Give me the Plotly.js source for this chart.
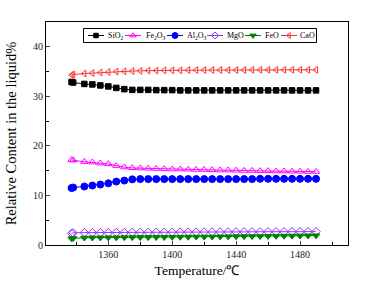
<!DOCTYPE html>
<html><head><meta charset="utf-8">
<script src="https://cdn.plot.ly/plotly-3.0.1.min.js"></script>
<style>html,body{margin:0;padding:0;background:#fff}#chart{width:368px;height:283px}</style>
</head><body><div id="chart"></div>
<script>
var temperature = [1337,1338,1345,1350,1355,1360,1365,1370,1375,1380,1385,1390,1395,1400,1405,1410,1415,1420,1425,1430,1435,1440,1445,1450,1455,1460,1465,1470,1475,1480,1485,1490];
var sio2  = [32.9,32.8,32.5,32.4,32.2,32.0,31.7,31.45,31.3,31.3,31.3,31.25,31.25,31.25,31.2,31.2,31.2,31.2,31.2,31.2,31.2,31.2,31.2,31.2,31.2,31.2,31.2,31.2,31.2,31.2,31.2,31.2];
var fe2o3 = [17.2,17.1,16.8,16.7,16.5,16.35,16.0,15.7,15.55,15.5,15.45,15.4,15.35,15.3,15.3,15.25,15.2,15.2,15.15,15.1,15.1,15.05,15.0,15.0,14.95,14.95,14.9,14.9,14.85,14.85,14.8,14.8];
var al2o3 = [11.5,11.6,11.8,12.0,12.2,12.45,12.8,13.0,13.25,13.3,13.3,13.3,13.3,13.3,13.3,13.3,13.3,13.3,13.3,13.3,13.3,13.3,13.3,13.3,13.35,13.35,13.35,13.35,13.35,13.35,13.35,13.35];
var mgo   = [2.35,2.45,2.5,2.5,2.5,2.5,2.52,2.52,2.55,2.55,2.55,2.57,2.57,2.58,2.6,2.6,2.6,2.62,2.62,2.63,2.64,2.65,2.65,2.66,2.67,2.68,2.68,2.69,2.7,2.7,2.7,2.7];
var feo   = [1.3,1.35,1.45,1.47,1.48,1.5,1.5,1.52,1.53,1.55,1.56,1.57,1.58,1.6,1.61,1.62,1.64,1.65,1.66,1.68,1.7,1.72,1.73,1.75,1.76,1.78,1.8,1.82,1.84,1.86,1.88,1.9];
var cao   = [34.3,34.4,34.6,34.7,34.8,34.9,35.0,35.05,35.1,35.15,35.2,35.2,35.25,35.25,35.25,35.3,35.3,35.3,35.3,35.3,35.3,35.3,35.3,35.35,35.35,35.35,35.35,35.35,35.35,35.35,35.35,35.35];
var names = ['SiO<sub>2</sub>','Fe<sub>2</sub>O<sub>3</sub>','Al<sub>2</sub>O<sub>3</sub>','MgO','FeO','CaO'];

var series = [sio2, fe2o3, al2o3, mgo, feo, cao];
var colors = ['#000000','#ff00ff','#0000ff','#9933ff','#008000','#ff3333'];
var symbols = ['square','triangle-up-open','circle','diamond-open','triangle-down','triangle-left-open'];
var sizes = [5.5,6.5,7,6.5,6.5,6];
var traces = series.map(function(s,i){
  return {x: temperature, y: s, name: names[i], type:'scatter', mode:'lines+markers', showlegend:false,
    line:{color:colors[i], width:1},
    marker:{symbol:symbols[i], size:sizes[i], color:colors[i], line:{color:colors[i], width:1}}};
});

// custom legend, positioned in pixel space via an invisible overlay axis pair
var legendLineX0 = [88,125,167,207,245,281];
var legendTextX  = [107,145,186,226,264,299];
var legendY = 35.5;
var shapes = [{type:'rect', xref:'x2', yref:'y2', x0:83.5, x1:316.5, y0:28.5, y1:42.5, line:{color:'#000', width:1}, fillcolor:'#fff', layer:'below'}];
var annotations = [];
legendLineX0.forEach(function(x0,i){
  shapes.push({type:'line', xref:'x2', yref:'y2', x0:x0, x1:x0+16, y0:legendY, y1:legendY, line:{color:colors[i], width:1}});
  traces.push({x:[x0+8], y:[legendY], xaxis:'x2', yaxis:'y2', type:'scatter', mode:'markers', showlegend:false, hoverinfo:'skip',
    marker:{symbol:symbols[i], size:sizes[i]-1, color:colors[i], line:{color:colors[i], width:1}}});
  annotations.push({xref:'x2', yref:'y2', x:legendTextX[i], y:legendY, text:names[i], showarrow:false, xanchor:'left', yanchor:'middle',
    font:{family:'"Liberation Serif", "Times New Roman", serif', size:8, color:'#000'}, borderpad:0});
});

var fontFam = '"Liberation Serif", "Times New Roman", serif';
var layout = {
  width:368, height:283,
  margin:{l:46, r:20, t:22, b:38},
  paper_bgcolor:'#fff', plot_bgcolor:'#fff',
  font:{family:fontFam, color:'#000', size:10},
  showlegend:false,
  shapes:shapes, annotations:annotations,
  xaxis:{range:[1321,1510], tick0:1360, dtick:40, ticks:'inside', ticklen:4, tickwidth:1,
    showline:true, linecolor:'#000', linewidth:1, mirror:true, showgrid:false, zeroline:false,
    minor:{dtick:20, tick0:1340, ticks:'inside', ticklen:3, tickcolor:'#000'},
    tickfont:{family:fontFam, size:10, color:'#222'},
    title:{text:'Temperature/℃', font:{family:fontFam, size:13.5, color:'#000'}, standoff:6}},
  yaxis:{range:[0,45], dtick:10, ticks:'inside', ticklen:4, tickwidth:1,
    showline:true, linecolor:'#000', linewidth:1, mirror:true, showgrid:false, zeroline:false,
    minor:{dtick:5, ticks:'inside', ticklen:3, tickcolor:'#000'},
    tickfont:{family:fontFam, size:10, color:'#222'},
    title:{text:'Relative Content in the liquid%', font:{family:fontFam, size:14.5, color:'#000'}, standoff:12}},
  xaxis2:{overlaying:'x', anchor:'y2', range:[46,348], visible:false, fixedrange:true},
  yaxis2:{overlaying:'y', anchor:'x2', range:[245,22], visible:false, fixedrange:true}
};
Plotly.newPlot('chart', traces, layout, {staticPlot:true, displayModeBar:false});
</script></body></html>
